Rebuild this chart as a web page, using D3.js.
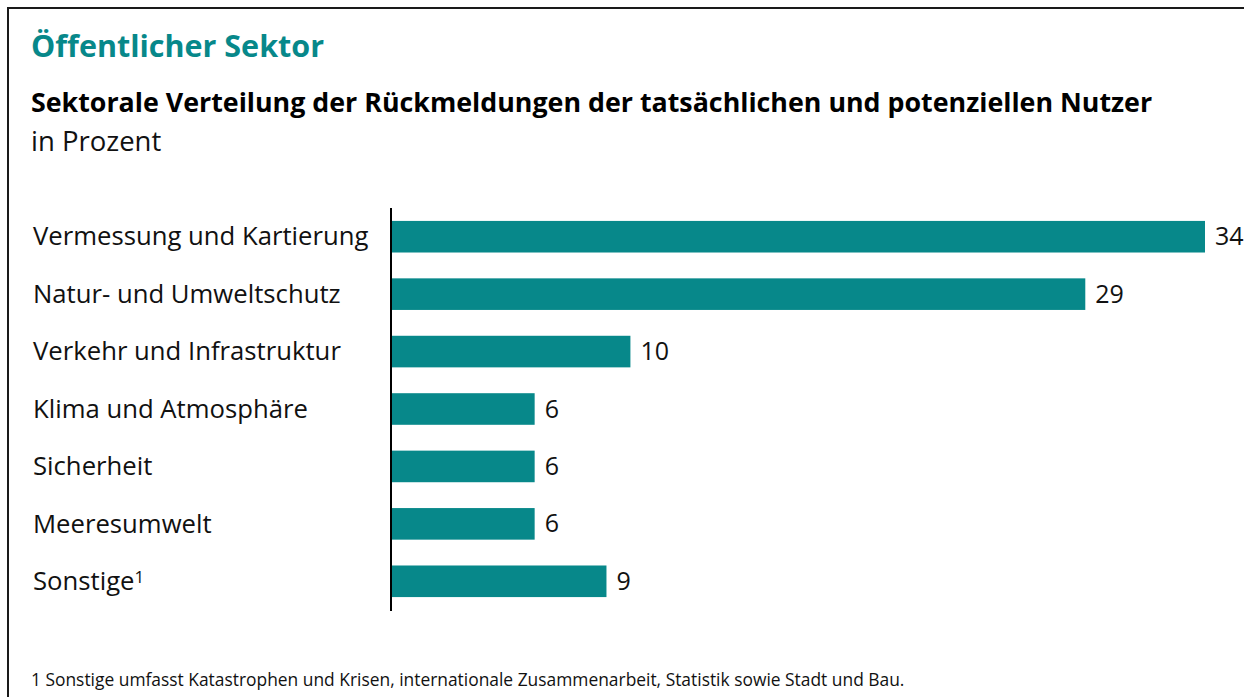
<!DOCTYPE html>
<html>
<head>
<meta charset="utf-8">
<script src="https://cdn.jsdelivr.net/npm/d3@7"></script>
<style>
  body { margin: 0; background: #fff; }
  svg { display: block; font-family: "Open Sans", sans-serif; }
</style>
</head>
<body>
<div id="chart"></div>
<script>
// Width and height
var chartWidth  = 1244;
var chartHeight = 697;

// Data
var categories = ['Vermessung und Kartierung', 'Natur- und Umweltschutz', 'Verkehr und Infrastruktur',
    'Klima und Atmosphäre', 'Sicherheit', 'Meeresumwelt', 'Sonstige'];
var values = [34, 29, 10, 6, 6, 6, 9];
var footnoteMarks = ['', '', '', '', '', '', '1'];

var title     = 'Öffentlicher Sektor';
var subtitle  = 'Sektorale Verteilung der Rückmeldungen der tatsächlichen und potenziellen Nutzer';
var unitLabel = 'in Prozent';
var footnote  = '1 Sonstige umfasst Katastrophen und Krisen, internationale Zusammenarbeit, Statistik sowie Stadt und Bau.';

var teal = '#07888a';

var svg = d3.select('#chart')
    .append('svg')
    .attr('width', chartWidth)
    .attr('height', chartHeight);

// frame (only top and left edges are visible in the crop)
svg.append('path')
    .attr('d', 'M8,' + chartHeight + 'V8H' + chartWidth)
    .attr('fill', 'none')
    .attr('stroke', '#1a1a1a')
    .attr('stroke-width', 2);

// headings
svg.append('text')
    .attr('x', 31).attr('y', 57)
    .attr('fill', teal)
    .style('font-weight', 700)
    .style('font-size', '30.5px')
    .text(title);

svg.append('text')
    .attr('x', 31).attr('y', 112)
    .attr('fill', '#000')
    .style('font-weight', 700)
    .style('font-size', '26.8px')
    .text(subtitle);

svg.append('text')
    .attr('x', 31).attr('y', 151)
    .attr('fill', '#111')
    .style('font-size', '27.5px')
    .text(unitLabel);

// scales
var x = d3.scaleLinear()
    .domain([0, 34])
    .range([391, 1205]);

var y = d3.scaleBand()
    .domain(categories)
    .range([208, 610])
    .paddingInner(0.45)
    .paddingOuter(0.225);

// bars
svg.selectAll('rect.bar')
    .data(values)
    .enter()
    .append('rect')
    .attr('class', 'bar')
    .attr('x', x(0))
    .attr('y', function(d, i){ return y(categories[i]); })
    .attr('width', function(d){ return x(d) - x(0); })
    .attr('height', y.bandwidth())
    .attr('fill', teal);

// value labels
svg.selectAll('text.value')
    .data(values)
    .enter()
    .append('text')
    .attr('class', 'value')
    .attr('x', function(d){ return x(d) + 10; })
    .attr('y', function(d, i){ return y(categories[i]) + y.bandwidth() / 2; })
    .attr('dy', '0.34em')
    .attr('fill', '#111')
    .style('font-size', '25px')
    .text(function(d){ return d; });

// category labels
var labels = svg.selectAll('text.cat')
    .data(categories)
    .enter()
    .append('text')
    .attr('class', 'cat')
    .attr('x', 33)
    .attr('y', function(d){ return y(d) + y.bandwidth() / 2; })
    .attr('dy', '0.34em')
    .attr('fill', '#111')
    .style('font-size', '25.7px');

labels.append('tspan').text(function(d){ return d; });
labels.append('tspan')
    .attr('dy', '-0.42em')
    .style('font-size', '17px')
    .text(function(d, i){ return footnoteMarks[i]; });

// axis line
svg.append('line')
    .attr('x1', x(0)).attr('x2', x(0))
    .attr('y1', 208).attr('y2', 611)
    .attr('stroke', '#000')
    .attr('stroke-width', 2);

// footnote
svg.append('text')
    .attr('x', 31).attr('y', 686)
    .attr('fill', '#111')
    .style('font-size', '17.4px')
    .text(footnote);
</script>
</body>
</html>
